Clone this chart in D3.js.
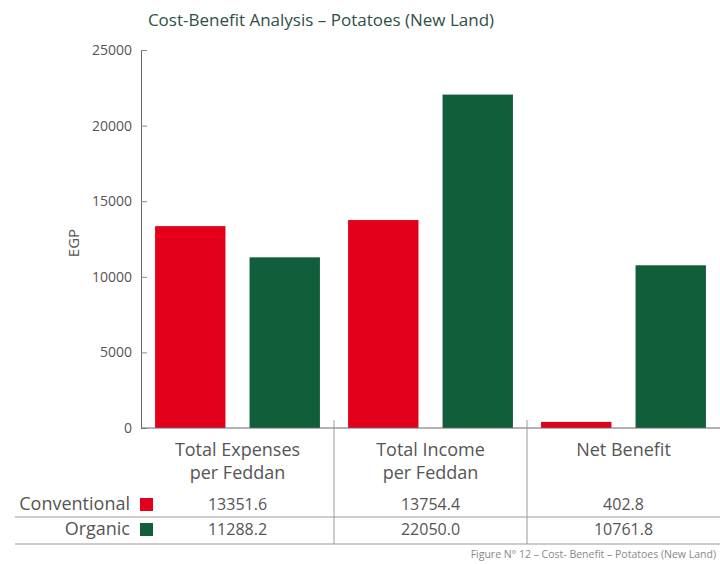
<!DOCTYPE html>
<html>
<head>
<meta charset="utf-8">
<script src="https://cdn.jsdelivr.net/npm/d3@7"></script>
<style>
  body { margin: 0; background: #fff; }
  text { font-family: "Open Sans", sans-serif; }
</style>
</head>
<body>
<div id="chart"></div>
<script>
// datos del gráfico
var categoryLines = [["Total Expenses", "per Feddan"], ["Total Income", "per Feddan"], ["Net Benefit"]];
var categories = ["Total Expenses per Feddan", "Total Income per Feddan", "Net Benefit"];
var seriesNames = ["Conventional", "Organic"];
var conventional = [13351.6, 13754.4, 402.8];
var organic = [11288.2, 22050.0, 10761.8];
var yTicks = [0, 5000, 10000, 15000, 20000, 25000];
var title = "Cost-Benefit Analysis \u2013 Potatoes (New Land)";
var footer = "Figure N\u00b0 12 \u2013 Cost- Benefit \u2013 Potatoes (New Land)";

var colors = {Conventional: "#e4001b", Organic: "#115e3b"};
var values = {Conventional: conventional, Organic: organic};

var W = 720, H = 564;
var plot = {left: 141, right: 720, top: 50, bottom: 428};

var svg = d3.select("#chart")
  .append("svg")
    .attr("width", W)
    .attr("height", H);

// titulo
svg.append("text")
  .attr("x", 321)
  .attr("y", 26)
  .attr("text-anchor", "middle")
  .style("font-size", "17px")
  .style("fill", "#2f4f47")
  .text(title);

// escalas
var x0 = d3.scaleBand()
  .domain(categories)
  .range([plot.left, plot.right])
  .padding(0);

var x1 = d3.scaleBand()
  .domain(seriesNames)
  .range([0, x0.bandwidth()])
  .paddingInner(0.255)
  .paddingOuter(0.149);

var y = d3.scaleLinear()
  .domain([0, 25000])
  .range([plot.bottom, plot.top]);

// barras
seriesNames.forEach(function(s) {
  svg.append("g")
    .selectAll("rect")
    .data(categories)
    .enter()
    .append("rect")
      .attr("x", function(d) { return x0(d) + x1(s); })
      .attr("y", function(d, i) { return y(values[s][i]); })
      .attr("width", x1.bandwidth())
      .attr("height", function(d, i) { return y(0) - y(values[s][i]); })
      .style("fill", colors[s]);
});

// eje Y
var yAxis = svg.append("g")
  .attr("transform", "translate(" + plot.left + ",0)")
  .call(d3.axisLeft(y).tickValues(yTicks).tickSizeInner(-6).tickSizeOuter(0).tickPadding(9).tickFormat(d3.format("d")));
yAxis.select(".domain").attr("stroke", "#666");
yAxis.selectAll(".tick line").attr("stroke", "#888");
yAxis.selectAll(".tick text")
  .style("font-family", "'Open Sans', sans-serif")
  .style("font-size", "14px")
  .style("fill", "#555");

svg.append("text")
  .attr("transform", "translate(79,243) rotate(-90)")
  .attr("text-anchor", "middle")
  .style("font-size", "15px")
  .style("fill", "#555")
  .text("EGP");

// eje X
svg.append("line")
  .attr("x1", plot.left).attr("x2", plot.right)
  .attr("y1", y(0)).attr("y2", y(0))
  .attr("stroke", "#666");

// separadores de columnas
svg.append("g")
  .selectAll("line")
  .data(categories.slice(1))
  .enter()
  .append("line")
    .attr("x1", function(d) { return x0(d); })
    .attr("x2", function(d) { return x0(d); })
    .attr("y1", 420)
    .attr("y2", 544)
    .attr("stroke", "#999");

// etiquetas de categoria
categories.forEach(function(c, i) {
  var t = svg.append("text")
    .attr("text-anchor", "middle")
    .style("font-size", "18px")
    .style("fill", "#555");
  categoryLines[i].forEach(function(line, j) {
    t.append("tspan")
      .attr("x", x0(c) + x0.bandwidth() / 2)
      .attr("y", 456 + j * 23)
      .text(line);
  });
});

// tabla de datos
var rowY = [510, 535];
var lineY = [517, 544];
seriesNames.forEach(function(s, r) {
  svg.append("text")
    .attr("x", 130)
    .attr("y", rowY[r])
    .attr("text-anchor", "end")
    .style("font-size", "18px")
    .style("fill", "#555")
    .text(s);
  svg.append("rect")
    .attr("x", 140)
    .attr("y", rowY[r] - 12)
    .attr("width", 13)
    .attr("height", 13)
    .style("fill", colors[s]);
  svg.append("g")
    .selectAll("text")
    .data(values[s])
    .enter()
    .append("text")
      .attr("x", function(d, i) { return x0(categories[i]) + x0.bandwidth() / 2; })
      .attr("y", rowY[r])
      .attr("text-anchor", "middle")
      .style("font-size", "16px")
      .style("fill", "#555")
      .text(function(d) { return d.toFixed(1); });
  svg.append("line")
    .attr("x1", 15).attr("x2", 720)
    .attr("y1", lineY[r]).attr("y2", lineY[r])
    .attr("stroke", "#999");
});

// pie de figura
svg.append("text")
  .attr("x", 716)
  .attr("y", 558)
  .attr("text-anchor", "end")
  .style("font-size", "10.5px")
  .style("fill", "#888")
  .text(footer);
</script>
</body>
</html>
